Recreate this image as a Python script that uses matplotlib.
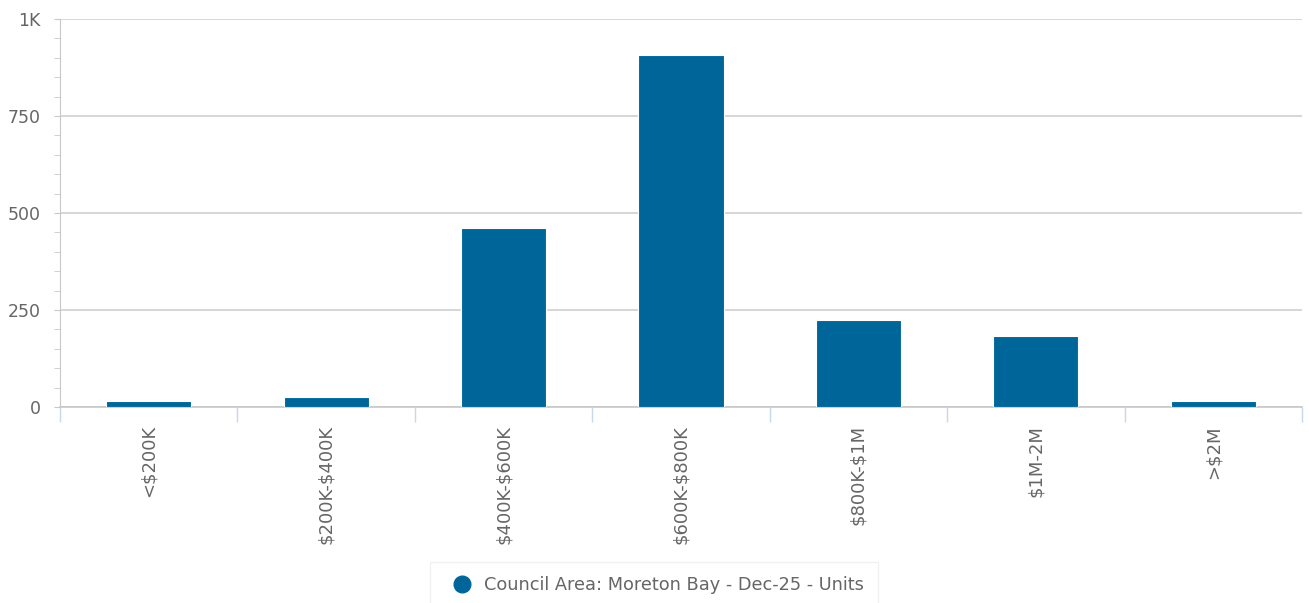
import matplotlib.pyplot as plt
from matplotlib.lines import Line2D
from matplotlib.ticker import MultipleLocator, FuncFormatter

plt.rcParams['text.parse_math'] = False

categories = ['<$200K', '$200K-$400K', '$400K-$600K', '$600K-$800K', '$800K-$1M', '$1M-2M', '>$2M']
values = [15, 26, 461, 906, 224, 183, 15]
series_name = 'Council Area: Moreton Bay - Dec-25 - Units'

bar_color = '#006699'
text_color = '#666666'

fig = plt.figure(figsize=(13.09, 6.03), dpi=100)
ax = fig.add_axes([60 / 1309, 1 - 407 / 603, (1302 - 60) / 1309, (407 - 19) / 603])

x = list(range(len(categories)))
ax.bar(x, values, width=0.48, color=bar_color, edgecolor='white', linewidth=0.8, zorder=3)

ax.set_xlim(-0.5, len(categories) - 0.5)
ax.set_ylim(0, 1000)

ax.yaxis.set_major_locator(MultipleLocator(250))
ax.yaxis.set_minor_locator(MultipleLocator(50))
ax.yaxis.set_major_formatter(FuncFormatter(lambda v, p: '1K' if v == 1000 else '%d' % v))
ax.grid(axis='y', color='#d0d0d0', linewidth=1.2, zorder=0)

ax.tick_params(axis='y', which='major', length=4, color='#c8c8c8', labelsize=12.5,
               labelcolor=text_color, pad=10)
ax.tick_params(axis='y', which='minor', length=4, color='#c8c8c8')

# category ticks sit between bars
ax.set_xticks([i - 0.5 for i in range(len(categories) + 1)])
ax.set_xticklabels([])
ax.set_xticks(x, minor=True)
ax.set_xticklabels(categories, minor=True, rotation=90, fontsize=13, color=text_color)
ax.tick_params(axis='x', which='major', length=11, color='#ccd6eb', width=1)
ax.tick_params(axis='x', which='minor', length=0, pad=13)

for s in ['top', 'right']:
    ax.spines[s].set_visible(False)
ax.spines['left'].set_color('#c8c8c8')
ax.spines['bottom'].set_color('#c8c8c8')
ax.spines['bottom'].set_linewidth(1.2)

handle = Line2D([], [], marker='o', linestyle='none', markersize=12, color=bar_color)
leg = fig.legend([handle], [series_name], loc='upper center', bbox_to_anchor=(654 / 1309, 1 - 553 / 603),
                 frameon=True, fontsize=12.8, labelcolor=text_color, handletextpad=0.2,
                 borderpad=0.8, fancybox=False, edgecolor='#eeeeee')

fig.savefig('out.png', dpi=100)
